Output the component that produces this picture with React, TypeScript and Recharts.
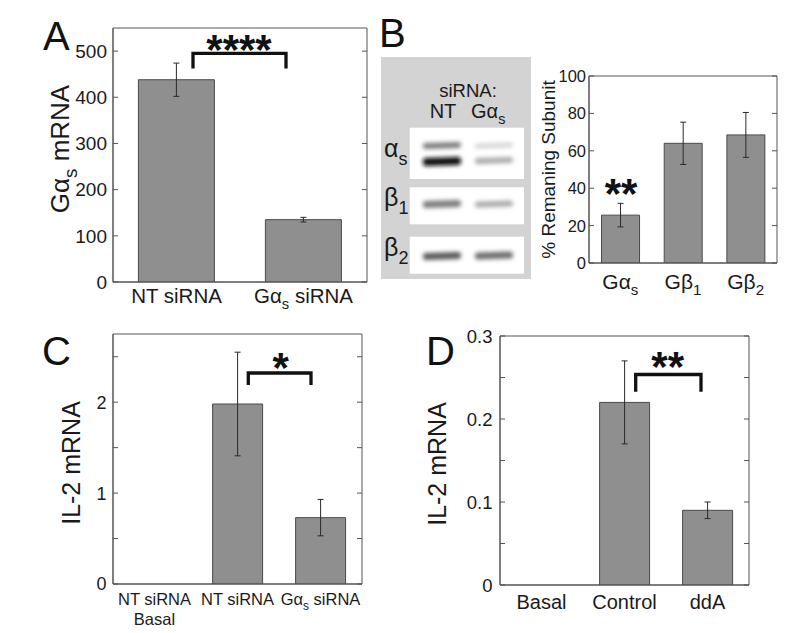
import React from 'react';
import { BarChart, Bar, XAxis, YAxis, ErrorBar, ReferenceArea } from 'recharts';

const FONT = '"Liberation Sans", Arial, Helvetica, sans-serif';
const AXIS = '#555555';
const INK = '#1a1a1a';
const BAR = '#8f8f8f';

// Panel A
const aCategories = ['NT siRNA', 'Gα_s siRNA'];
const aValues = [438, 135];
const aErrors = [36, 5];
const aTicks = [0, 100, 200, 300, 400, 500];

// Panel B
const bCategories = ['Gα_s', 'Gβ_1', 'Gβ_2'];
const bValues = [25.6, 64, 68.5];
const bErrors = [6.3, 11.3, 12];
const bTicks = [0, 20, 40, 60, 80, 100];

// Panel C
const cCategories = ['NT siRNA\nBasal', 'NT siRNA', 'Gα_s siRNA'];
const cValues = [0, 1.98, 0.73];
const cErrors = [0, 0.57, 0.2];
const cTicks = [0, 0.5, 1, 1.5, 2, 2.5];
const cLabelled = [0, 1, 2];

// Panel D
const dCategories = ['Basal', 'Control', 'ddA'];
const dValues = [0, 0.22, 0.09];
const dErrors = [0, 0.05, 0.01];
const dTicks = [0, 0.05, 0.1, 0.15, 0.2, 0.25, 0.3];
const dLabelled = [0, 0.1, 0.2, 0.3];

// western blot bands (lane 0 = NT, lane 1 = Gαs)
const blotRows = [
  { label: 'α_s', top: 127.7, height: 51.3, labelY: 157 },
  { label: 'β_1', top: 187.3, height: 37, labelY: 206 },
  { label: 'β_2', top: 236.7, height: 37, labelY: 256 },
];
const blotBands = [
  { lane: 0, y: 145.5, h: 6, shade: '#7c7c7c' },
  { lane: 1, y: 145.5, h: 5, shade: '#d6d6d6' },
  { lane: 0, y: 161.5, h: 8, shade: '#111111' },
  { lane: 1, y: 160.5, h: 6, shade: '#ababab' },
  { lane: 0, y: 204, h: 7, shade: '#7c7c7c' },
  { lane: 1, y: 204, h: 6, shade: '#aaaaaa' },
  { lane: 0, y: 256, h: 7, shade: '#585858' },
  { lane: 1, y: 255.5, h: 7, shade: '#6e6e6e' },
];
const laneX = [[423, 461], [475, 513]];

const build = (cats: string[], vals: number[], errs: number[]) =>
  cats.map((name, i) => ({ name, value: vals[i], err: errs[i] }));

function richSpans(text: string, size: number) {
  const out: React.ReactNode[] = [];
  let shifted = false;
  text.split(/(_.)/).forEach((p, i) => {
    if (!p) return;
    if (p[0] === '_') {
      out.push(<tspan key={i} fontSize={size * 0.72} dy={size * 0.3}>{p.slice(1)}</tspan>);
      shifted = true;
    } else {
      out.push(<tspan key={i} fontSize={size} dy={shifted ? -size * 0.3 : 0}>{p}</tspan>);
      shifted = false;
    }
  });
  return out;
}

const makeCatTick = (size: number, dy: number, gap: number) => (props: any) => {
  const { x, y, payload } = props;
  const lines = String(payload.value).split('\n');
  return (
    <g>
      {lines.map((ln, i) => (
        <text key={i} x={x} y={y + dy + i * gap} textAnchor="middle" fontFamily={FONT} fontSize={size} fill={INK}>
          {richSpans(ln, size)}
        </text>
      ))}
    </g>
  );
};

// value tick: label left of the frame, short inward marks on both frame sides
const makeValueTick = (size: number, gap: number, plotWidth: number, fmt: (v: number) => string) => (props: any) => {
  const { x, y, payload } = props;
  return (
    <g>
      <line x1={x} x2={x + 5} y1={y} y2={y} stroke={AXIS} />
      <line x1={x + plotWidth - 5} x2={x + plotWidth} y1={y} y2={y} stroke={AXIS} />
      <text x={x - gap} y={y} dy="0.36em" textAnchor="end" fontFamily={FONT} fontSize={size} fill={INK}>
        {fmt(payload.value)}
      </text>
    </g>
  );
};

function Panel({ box, margin, yWidth, xHeight, data, domain, ticks, fmt, tickFont, tickGap, catTick }: any) {
  const plotWidth = box.width - margin.left - margin.right - yWidth;
  return (
    <div style={{ position: 'absolute', left: box.left, top: box.top }}>
      <BarChart width={box.width} height={box.height} data={data} margin={margin} barCategoryGap="20%">
        <XAxis dataKey="name" height={xHeight} tickLine={false} tickSize={0} tickMargin={0} interval={0}
          tick={catTick} axisLine={{ stroke: AXIS }} />
        <YAxis width={yWidth} type="number" domain={domain} ticks={ticks} interval={0}
          allowDataOverflow tickSize={0} tickMargin={0} tickLine={false}
          tick={makeValueTick(tickFont, tickGap, plotWidth, fmt)}
          axisLine={{ stroke: AXIS }} />
        <ReferenceArea y1={domain[0]} y2={domain[1]} fill="none" stroke={AXIS} strokeWidth={1} ifOverflow="visible" />
        <Bar dataKey="value" fill={BAR} stroke="#4a4a4a" strokeWidth={1} isAnimationActive={false}>
          <ErrorBar dataKey="err" width={3} stroke="#2a2a2a" strokeWidth={1} />
        </Bar>
      </BarChart>
    </div>
  );
}

const labelledFmt = (keep: number[], digits: number) => (v: number) =>
  keep.some((k) => Math.abs(k - v) < 1e-9) ? (v === 0 ? '0' : v.toFixed(digits).replace(/\.0+$/, '')) : '';

function Star({ x, y, text }: { x: number; y: number; text: string }) {
  return (
    <text x={x} y={y} textAnchor="middle" fontFamily={FONT} fontWeight="bold" fontSize={42} fill="#111">
      {text}
    </text>
  );
}

function YLabel({ x, y, text, size }: { x: number; y: number; text: string; size: number }) {
  return (
    <text transform={`translate(${x},${y}) rotate(-90)`} textAnchor="middle" fontFamily={FONT} fontSize={size} fill={INK}>
      {richSpans(text, size)}
    </text>
  );
}

function Overlay() {
  return (
    <svg width={796} height={633} style={{ position: 'absolute', left: 0, top: 0, pointerEvents: 'none' }}>
      <defs>
        <filter id="blur" x="-20%" y="-150%" width="140%" height="400%">
          <feGaussianBlur stdDeviation="2.2" />
        </filter>
      </defs>
      {/* panel letters */}
      <g fontFamily={FONT} fontSize={40} fill="#111">
        <text x={43} y={50}>A</text>
        <text x={379} y={47}>B</text>
        <text x={42} y={365}>C</text>
        <text x={426} y={365}>D</text>
      </g>

      {/* axis titles */}
      <YLabel x={69} y={149} text="Gα_s mRNA" size={26} />
      <YLabel x={555} y={169.5} text="% Remaning Subunit" size={19} />
      <YLabel x={79.5} y={463} text="IL-2 mRNA" size={25} />
      <YLabel x={446} y={464} text="IL-2 mRNA" size={25} />

      {/* significance brackets */}
      <g fill="none" stroke="#111" strokeWidth={3.3}>
        <path d="M193,68.5 V53.3 H286 V68.5" />
        <path d="M248.3,385 V373 H311 V385" />
        <path d="M635.7,391.7 V374.5 H701 V391.7" />
      </g>
      <Star x={239} y={64} text="****" />
      <Star x={621} y={207.5} text="**" />
      <Star x={280.7} y={382} text="*" />
      <Star x={667.7} y={381} text="**" />

      {/* western blot */}
      <rect x={381} y={57} width={150} height={222} fill="#d3d3d3" />
      <text x={468} y={96.7} textAnchor="middle" fontFamily={FONT} fontSize={18.5} fill={INK}>siRNA:</text>
      <text x={443} y={118} textAnchor="middle" fontFamily={FONT} fontSize={20} fill={INK}>NT</text>
      <text x={471} y={118} fontFamily={FONT} fontSize={20} fill={INK}>{richSpans('Gα_s', 20)}</text>
      {blotRows.map((r, i) => (
        <g key={i}>
          <rect x={409.7} y={r.top} width={114.3} height={r.height} fill="#ffffff" />
          <text x={384} y={r.labelY} fontFamily={FONT} fontSize={25} fill={INK}>{richSpans(r.label, 25)}</text>
        </g>
      ))}
      <g filter="url(#blur)">
        {blotBands.map((b, i) => {
          const [x0, x1] = laneX[b.lane];
          const cx = (x0 + x1) / 2;
          return (
            <rect key={i} x={x0} y={b.y - b.h / 2} width={x1 - x0} height={b.h} rx={3}
              fill={b.shade} transform={`rotate(-2 ${cx} ${b.y})`} />
          );
        })}
      </g>
    </svg>
  );
}

export default function App() {
  return (
    <div style={{ position: 'absolute', left: 0, top: 0, width: 796, height: 633, background: '#fff' }}>
      <Panel
        box={{ left: 0, top: 0, width: 380, height: 315 }}
        margin={{ top: 28, right: 13, left: 0, bottom: 3 }}
        yWidth={113} xHeight={30}
        data={build(aCategories, aValues, aErrors)}
        domain={[0, 550]} ticks={aTicks} fmt={(v: number) => String(v)}
        tickFont={19} tickGap={6}
        catTick={makeCatTick(20.5, 21, 20)}
      />
      <Panel
        box={{ left: 540, top: 0, width: 256, height: 310 }}
        margin={{ top: 76, right: 19, left: 0, bottom: 17 }}
        yWidth={49} xHeight={30}
        data={build(bCategories, bValues, bErrors)}
        domain={[0, 100]} ticks={bTicks} fmt={(v: number) => String(v)}
        tickFont={16.5} tickGap={3}
        catTick={makeCatTick(21, 26, 20)}
      />
      <Panel
        box={{ left: 0, top: 315, width: 380, height: 318 }}
        margin={{ top: 19, right: 18, left: 0, bottom: 4 }}
        yWidth={113} xHeight={45}
        data={build(cCategories, cValues, cErrors)}
        domain={[0, 2.75]} ticks={cTicks} fmt={labelledFmt(cLabelled, 0)}
        tickFont={18} tickGap={6.5}
        catTick={makeCatTick(16.5, 21, 20)}
      />
      <Panel
        box={{ left: 400, top: 315, width: 396, height: 318 }}
        margin={{ top: 21, right: 47, left: 0, bottom: 13 }}
        yWidth={100} xHeight={35}
        data={build(dCategories, dValues, dErrors)}
        domain={[0, 0.3]} ticks={dTicks} fmt={labelledFmt(dLabelled, 1)}
        tickFont={18.5} tickGap={7.5}
        catTick={makeCatTick(20, 24, 20)}
      />
      <Overlay />
    </div>
  );
}
